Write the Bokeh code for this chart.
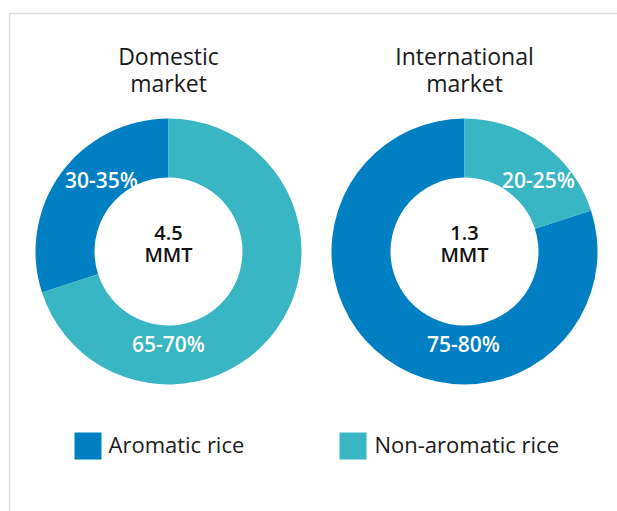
import math
from bokeh.plotting import figure
from bokeh.models import Range1d
from bokeh.core.properties import value
from bokeh.embed import file_html
from bokeh.resources import INLINE

# ---- data ----
markets = ["Domestic\nmarket", "International\nmarket"]
totals = ["4.5\nMMT", "1.3\nMMT"]
categories = ["Aromatic rice", "Non-aromatic rice"]
aromatic_share = [30, 80]          # share used for drawing (percent)
non_aromatic_share = [70, 20]
aromatic_labels = ["30-35%", "75-80%"]
non_aromatic_labels = ["65-70%", "20-25%"]

# ---- styling / layout (screen-like coordinates, y negated) ----
colors = {"Aromatic rice": "#0080C2", "Non-aromatic rice": "#38B6C4"}
W, H = 617, 511
FONT = "Open Sans"
FONT_SEMI = "Open Sans SemiBold"
centers_x = [168, 464]
center_y = -251
outer_r, inner_r = 133, 74
arom_label_pos = [(101, -179), (463, -343)]
non_label_pos = [(168, -343), (538, -179)]

p = figure(width=W, height=H, output_backend="svg", toolbar_location=None,
           x_range=Range1d(0, W), y_range=Range1d(-H, 0),
           min_border=0, outline_line_color=None)
p.axis.visible = False
p.grid.visible = False
p.background_fill_color = "white"
p.border_fill_color = "white"

# frame lines
p.segment(x0=[9, 9], y0=[-13, -13], x1=[700, 9], y1=[-13, -600],
          line_color="#dddddd", line_width=1.5)

# donuts
for i, cx in enumerate(centers_x):
    a_start = math.pi / 2
    a_end = a_start + 2 * math.pi * aromatic_share[i] / 100.0
    n_end = a_end + 2 * math.pi * non_aromatic_share[i] / 100.0
    p.annular_wedge(x=cx, y=center_y, inner_radius=inner_r, outer_radius=outer_r,
                    start_angle=a_start, end_angle=a_end, direction="anticlock",
                    fill_color=colors["Aromatic rice"], line_color=None)
    p.annular_wedge(x=cx, y=center_y, inner_radius=inner_r, outer_radius=outer_r,
                    start_angle=a_end, end_angle=n_end, direction="anticlock",
                    fill_color=colors["Non-aromatic rice"], line_color=None)

# slice labels
lx, ly, lt = [], [], []
for i in range(len(centers_x)):
    for pos, txt in ((arom_label_pos[i], aromatic_labels[i]),
                     (non_label_pos[i], non_aromatic_labels[i])):
        lx.append(pos[0]); ly.append(pos[1]); lt.append(txt)
p.text(x=lx, y=ly, text=lt, text_align="center", text_baseline="middle",
       text_color="white", text_font=value(FONT_SEMI), text_font_size="21px")

# center totals (two lines each)
for line_idx, mid in enumerate([-232, -254]):
    p.text(x=centers_x, y=[mid] * 2, text=[t.split("\n")[line_idx] for t in totals],
           text_align="center", text_baseline="middle", text_color="#111111",
           text_font=value(FONT_SEMI), text_font_size="20px")

# titles (two lines each)
for line_idx, mid in enumerate([-55, -82]):
    p.text(x=centers_x, y=[mid] * 2, text=[t.split("\n")[line_idx] for t in markets],
           text_align="center", text_baseline="middle", text_color="#1a1a1a",
           text_font=value(FONT), text_font_size="23px")

# legend
sq_x = [87.5, 352.5]
leg_y = -445.5
p.rect(x=sq_x, y=[leg_y] * 2, width=27, height=27,
       fill_color=[colors[c] for c in categories], line_color=None)
p.text(x=[108, 374], y=[leg_y - 0.0 + 2] * 2, text=categories, text_align="left",
       text_baseline="middle", text_color="#1a1a1a", text_font=value(FONT),
       text_font_size="22px")

open("out.html", "w").write(file_html(p, INLINE))
